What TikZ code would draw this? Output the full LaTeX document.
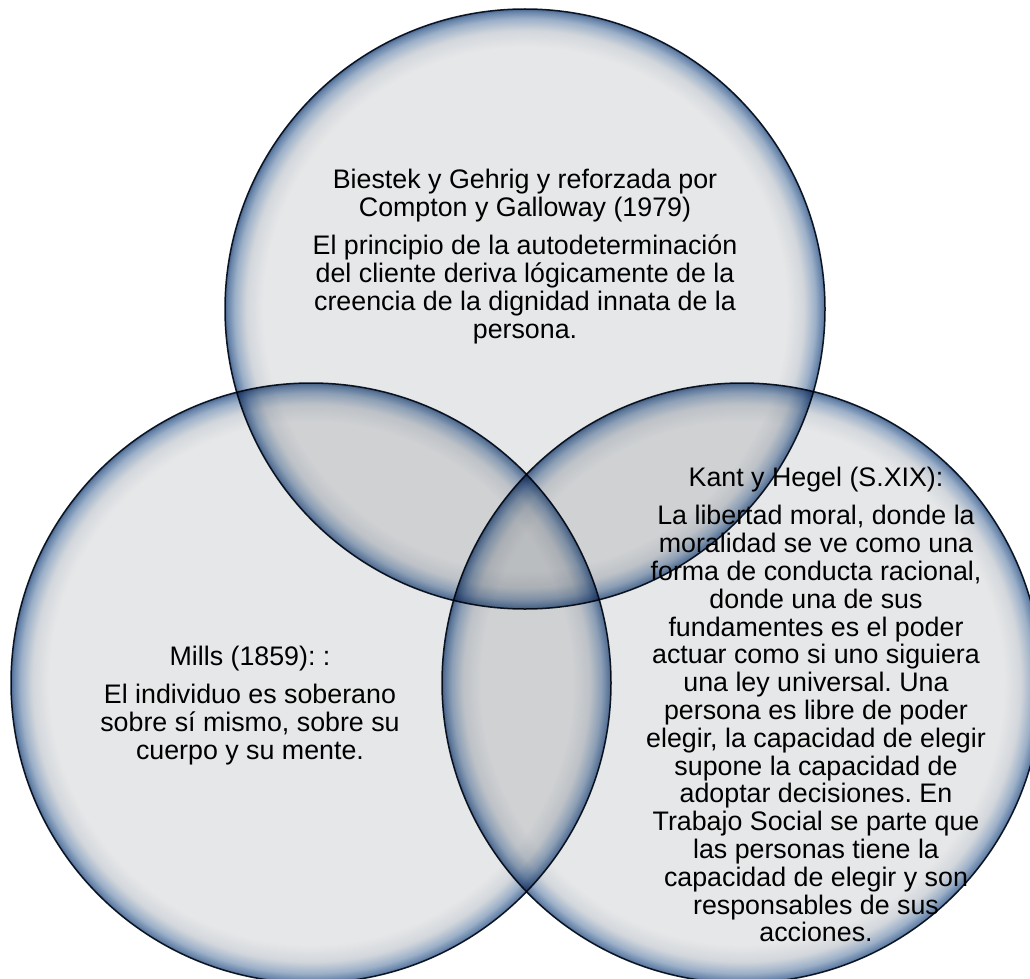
\documentclass[tikz,border=0pt]{standalone}
\usepackage{fontspec}
\setmainfont{Liberation Sans}
\usepackage{xcolor}
\frenchspacing
\definecolor{vennfill}{HTML}{E6E7E8}
\definecolor{vennmid}{HTML}{D3D7DC}
\definecolor{vennblue}{HTML}{9CB0C8}
\definecolor{vennedge}{HTML}{6683A9}
\definecolor{vennrim}{HTML}{4A6690}
\definecolor{vennline}{HTML}{16202E}
\pgfdeclareradialshading{bubble}{\pgfpoint{0bp}{0bp}}{%
	color(0bp)=(vennfill); color(21.8bp)=(vennfill); color(23.2bp)=(vennmid);
	color(24.2bp)=(vennblue); color(24.8bp)=(vennedge); color(25bp)=(vennrim);
	color(50bp)=(vennrim)}
\tikzset{%
	venn circle/.style={
		circle,
		inner sep=0pt,
		minimum size=600pt,
		shade,
		shading=bubble,
		draw=vennline,
		line width=1.5pt
	},
	venn text/.style={
		anchor=north,
		align=center,
		inner sep=0pt,
		font=\fontsize{26.8}{27.8}\selectfont
	},
}

\begin{document}
\begin{tikzpicture}[x=1pt, y=-1pt]
	\useasboundingbox (0,0) rectangle (1030,979);
	\fill[white] (0,0) rectangle (1030,979);
	
	\begin{scope}[blend mode=multiply]
		\node[venn circle] (vLeft) at (311,683) {};
		\node[venn circle] (vRight) at (742,683) {};
		
		\node[venn text] (tRight) at (816,467) {Kant y Hegel (S.XIX):\\[10.5pt]
			La libertad moral, donde la\\
			moralidad se ve como una\\
			forma de conducta racional,\\
			donde una de sus\\
			fundamentes es el poder\\
			actuar como si uno siguiera\\
			una ley universal. Una\\
			persona es libre de poder\\
			elegir, la capacidad de elegir\\
			supone la capacidad de\\
			adoptar decisiones. En\\
			Trabajo Social se parte que\\
			las personas tiene la\\
			capacidad de elegir y son\\
			responsables de sus\\
			acciones.};
		
		\node[venn circle] (vTop) at (525,309) {};
		
		\node[venn text] (tTop) at (525,169) {Biestek y Gehrig y reforzada por\\
			Compton y Galloway (1979)\\[10.5pt]
			El principio de la autodeterminación\\
			del cliente deriva lógicamente de la\\
			creencia de la dignidad innata de la\\
			persona.};
		
		\node[venn text] (tLeft) at (250,646) {Mills (1859): :\\[10pt]
			El individuo es soberano\\
			sobre sí mismo, sobre su\\
			cuerpo y su mente.};
	\end{scope}
\end{tikzpicture}
\end{document}
